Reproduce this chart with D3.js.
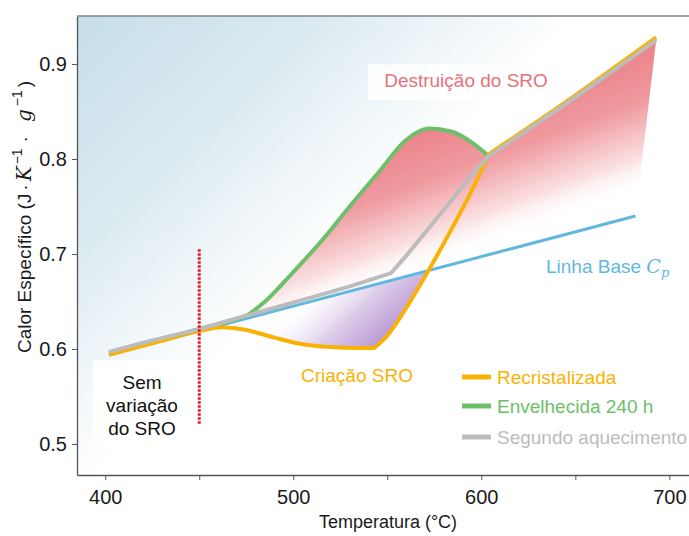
<!DOCTYPE html>
<html>
<head>
<meta charset="utf-8">
<script src="https://cdn.jsdelivr.net/npm/d3@7"></script>
<style>
  html, body { margin: 0; padding: 0; background: #fff; }
  svg { display: block; font-family: "Liberation Sans", Arial, sans-serif; }
</style>
</head>
<body>
<svg id="chart" width="689" height="536"></svg>
<script>
// ---------- data ----------
const xTickValues = [400, 450, 500, 550, 600, 650, 700];
const xTickLabels = ["400", "", "500", "", "600", "", "700"];
const yTickValues = [0.5, 0.6, 0.7, 0.8, 0.9];
const yTickLabels = ["0.5", "0.6", "0.7", "0.8", "0.9"];

const baseTemps = [402, 682];
const baseValues = [0.594, 0.740];

const grayTemps  = [402, 425, 450, 475, 500, 525, 552, 560, 572, 586, 598, 604, 650, 693];
const grayValues = [0.597, 0.609, 0.621, 0.635, 0.649, 0.663, 0.680, 0.698, 0.727, 0.761, 0.790, 0.803, 0.865, 0.925];
const grayBreaks = [552, 604];

const greenTemps  = [402, 440, 465, 475, 485, 500, 516, 530, 545, 560, 572, 584, 596, 604];
const greenValues = [0.596, 0.616, 0.629, 0.635, 0.650, 0.681, 0.716, 0.750, 0.785, 0.820, 0.832, 0.829, 0.816, 0.803];
const greenBreaks = [];

const orangeTemps  = [402, 425, 450, 462, 475, 490, 505, 520, 535, 543, 550, 560, 570, 583, 596, 604, 650, 693];
const orangeValues = [0.594, 0.606, 0.619, 0.623, 0.620, 0.612, 0.605, 0.602, 0.601, 0.601, 0.614, 0.643, 0.676, 0.722, 0.771, 0.805, 0.867, 0.928];
const orangeBreaks = [543, 604];

const sroMarkerTemp = 450;
const sroMarkerRange = [0.52, 0.705];

const legendLabels = ["Recristalizada", "Envelhecida 240 h", "Segundo aquecimento"];
const colors = { orange: "#f9b204", green: "#6cc06a", gray: "#bdbcbc", blue: "#62b7df", red: "#e8161c" };

// ---------- layout ----------
const svg = d3.select("#chart");
const x = d3.scaleLinear().domain([385, 716.3]).range([77, 700]);
const y = d3.scaleLinear().domain([0.4674, 0.9505]).range([475, 16]);

const toPts = (t, v) => t.map((d, i) => [d, v[i]]);
const basePts = toPts(baseTemps, baseValues);
const grayPts = toPts(grayTemps, grayValues);
const greenPts = toPts(greenTemps, greenValues);
const orangePts = toPts(orangeTemps, orangeValues);
const baseAt = t => baseValues[0] + (t - baseTemps[0]) * (baseValues[1] - baseValues[0]) / (baseTemps[1] - baseTemps[0]);

const lineGen = d3.line().x(d => x(d[0])).y(d => y(d[1])).curve(d3.curveMonotoneX);
// draw a series as smooth pieces joined at its corner temperatures
function segPath(pts, breaks) {
  const cuts = breaks.filter(b => b > pts[0][0] && b < pts[pts.length - 1][0]);
  const pieces = [];
  let start = 0;
  cuts.forEach(b => {
    const idx = pts.findIndex(p => p[0] === b);
    pieces.push(pts.slice(start, idx + 1));
    start = idx;
  });
  pieces.push(pts.slice(start));
  return pieces.filter(p => p.length > 1).map((p, i) => {
    const s = lineGen(p);
    return i === 0 ? s : "L" + s.slice(1);
  }).join("");
}

const defs = svg.append("defs");

// background gradient
const bg = defs.append("linearGradient").attr("id", "bgGrad")
  .attr("gradientUnits", "userSpaceOnUse")
  .attr("x1", 77).attr("y1", 16).attr("x2", 380).attr("y2", 340);
bg.append("stop").attr("offset", 0).attr("stop-color", "#c6dee9");
bg.append("stop").attr("offset", 0.35).attr("stop-color", "#d9e9f0");
bg.append("stop").attr("offset", 0.78).attr("stop-color", "#ffffff");
bg.append("stop").attr("offset", 1).attr("stop-color", "#ffffff");

// red gradient (pixel space)
const rg = defs.append("linearGradient").attr("id", "redGrad")
  .attr("gradientUnits", "userSpaceOnUse")
  .attr("x1", 560).attr("y1", 60).attr("x2", 612).attr("y2", 201);
rg.append("stop").attr("offset", 0).attr("stop-color", "#ea7c82");
rg.append("stop").attr("offset", 0.45).attr("stop-color", "#ef9aa0");
rg.append("stop").attr("offset", 0.8).attr("stop-color", "#fbe2e3");
rg.append("stop").attr("offset", 1).attr("stop-color", "#ffffff").attr("stop-opacity", 0);

// purple gradient
const pg = defs.append("linearGradient").attr("id", "purpGrad")
  .attr("gradientUnits", "userSpaceOnUse")
  .attr("x1", 375).attr("y1", 350).attr("x2", 312).attr("y2", 282);
pg.append("stop").attr("offset", 0).attr("stop-color", "#ba98d4");
pg.append("stop").attr("offset", 0.45).attr("stop-color", "#ddcdea");
pg.append("stop").attr("offset", 1).attr("stop-color", "#ffffff").attr("stop-opacity", 0);

// clip below baseline
defs.append("clipPath").attr("id", "belowBase").append("path")
  .attr("d", `M${x(385)},${y(0.4674)} L${x(385)},${y(baseAt(385))} L${x(716)},${y(baseAt(716))} L${x(716)},${y(0.4674)} Z`);

// plot background
svg.append("rect").attr("x", 77).attr("y", 16).attr("width", 640).attr("height", 459).attr("fill", "url(#bgGrad)");

// ---------- fills ----------
const upper = greenPts.filter(d => d[0] >= 475).concat(grayPts.filter(d => d[0] > 604));
const redPath = segPath(upper, [604]) +
  `L${x(baseTemps[1])},${y(baseValues[1])}L${x(475)},${y(baseAt(475))}Z`;
svg.append("path").attr("d", redPath).attr("fill", "url(#redGrad)");

const purpPts = orangePts.filter(d => d[0] >= 450 && d[0] <= 596);
const purpPath = segPath(purpPts, orangeBreaks) +
  `L${x(596)},${y(baseAt(596))}L${x(450)},${y(baseAt(450))}Z`;
svg.append("path").attr("d", purpPath).attr("fill", "url(#purpGrad)").attr("clip-path", "url(#belowBase)");

// ---------- label boxes ----------
svg.append("rect").attr("x", 368).attr("y", 64).attr("width", 190).attr("height", 36).attr("fill", "#fff").attr("opacity", 0.9);
svg.append("rect").attr("x", 93).attr("y", 360).attr("width", 100).attr("height", 85).attr("fill", "#fff");

// ---------- lines ----------
svg.append("path").attr("d", d3.line().x(d => x(d[0])).y(d => y(d[1]))(basePts))
  .attr("fill", "none").attr("stroke", colors.blue).attr("stroke-width", 3);
svg.append("path").attr("d", segPath(greenPts, greenBreaks))
  .attr("fill", "none").attr("stroke", colors.green).attr("stroke-width", 4).attr("stroke-linejoin", "round");
svg.append("path").attr("d", segPath(orangePts, orangeBreaks))
  .attr("fill", "none").attr("stroke", colors.orange).attr("stroke-width", 4).attr("stroke-linejoin", "round");
svg.append("path").attr("d", segPath(grayPts, grayBreaks))
  .attr("fill", "none").attr("stroke", colors.gray).attr("stroke-width", 4).attr("stroke-linejoin", "round");

// red dotted marker
svg.append("line")
  .attr("x1", x(sroMarkerTemp)).attr("x2", x(sroMarkerTemp))
  .attr("y1", y(sroMarkerRange[1])).attr("y2", y(sroMarkerRange[0]))
  .attr("stroke", colors.red).attr("stroke-width", 3).attr("stroke-dasharray", "2.4,1.6");

// ---------- axes ----------
const xAxis = d3.axisBottom(x).tickValues(xTickValues).tickFormat((d, i) => xTickLabels[i]).tickSize(5).tickSizeOuter(0);
const gx = svg.append("g").attr("transform", "translate(0,475)").call(xAxis);
const yAxis = d3.axisLeft(y).tickValues(yTickValues).tickFormat((d, i) => yTickLabels[i]).tickSize(5).tickSizeOuter(0);
const gy = svg.append("g").attr("transform", "translate(77,0)").call(yAxis);
[gx, gy].forEach(g => {
  g.select(".domain").attr("stroke", "#555").attr("stroke-width", 1.3);
  g.selectAll(".tick line").attr("stroke", "#555").attr("stroke-width", 1);
  g.selectAll(".tick text").attr("fill", "#1a1a1a").style("font-size", "20px")
    .style("font-family", '"Liberation Sans", Arial, sans-serif');
});
gx.selectAll(".tick text").attr("dy", "1.05em");
gy.selectAll(".tick text").attr("dx", "-2px");
// top spine
svg.append("line").attr("x1", 77).attr("x2", 700).attr("y1", 16).attr("y2", 16).attr("stroke", "#80858a").attr("stroke-width", 1.5);

// axis titles
svg.append("text").attr("x", 388).attr("y", 528).attr("text-anchor", "middle")
  .style("font-size", "18px").attr("fill", "#1a1a1a").text("Temperatura (°C)");

const serif = '"DejaVu Serif", "Liberation Serif", serif';
const yl = svg.append("text").attr("transform", "translate(31,217) rotate(-90)")
  .attr("text-anchor", "middle").style("font-size", "19px").attr("fill", "#1a1a1a");
yl.append("tspan").text("Calor Específico (J");
yl.append("tspan").attr("dx", 3).text("·");
yl.append("tspan").attr("dx", 3).style("font-family", serif).style("font-style", "italic").style("font-size", "20px").text("K");
yl.append("tspan").attr("dx", 2).attr("dy", -9).style("font-size", "14px").text("−1");
yl.append("tspan").attr("dx", 6).attr("dy", 9).text("·");
yl.append("tspan").attr("dx", 14).style("font-family", serif).style("font-style", "italic").style("font-size", "20px").text("g");
yl.append("tspan").attr("dx", 3).attr("dy", -9).style("font-size", "14px").text("−1");
yl.append("tspan").attr("dx", 3).attr("dy", 9).text(")");

// ---------- annotations ----------
svg.append("text").attr("x", 466).attr("y", 87).attr("text-anchor", "middle")
  .style("font-size", "19px").attr("fill", "#e9717a").text("Destruição do SRO");

const lb = svg.append("text").attr("x", 546).attr("y", 273).style("font-size", "19px").attr("fill", colors.blue);
lb.append("tspan").text("Linha Base ");
lb.append("tspan").style("font-family", serif).style("font-style", "italic").text("C");
lb.append("tspan").attr("dy", 4).style("font-size", "13px").style("font-family", serif).style("font-style", "italic").text("p");

svg.append("text").attr("x", 357).attr("y", 382).attr("text-anchor", "middle")
  .style("font-size", "19px").attr("fill", colors.orange).text("Criação SRO");

const sem = svg.append("text").attr("text-anchor", "middle").style("font-size", "19px").attr("fill", "#111");
["Sem", "variação", "do SRO"].forEach((s, i) => {
  sem.append("tspan").attr("x", 142).attr("y", 389 + i * 23).text(s);
});

// ---------- legend ----------
const legColors = [colors.orange, colors.green, colors.gray];
const legY = [377, 406, 437];
legendLabels.forEach((lab, i) => {
  svg.append("line").attr("x1", 462).attr("x2", 491).attr("y1", legY[i]).attr("y2", legY[i])
    .attr("stroke", legColors[i]).attr("stroke-width", 5);
  svg.append("text").attr("x", 497).attr("y", legY[i] + 7).style("font-size", "19px")
    .attr("fill", legColors[i]).text(lab);
});
</script>
</body>
</html>
